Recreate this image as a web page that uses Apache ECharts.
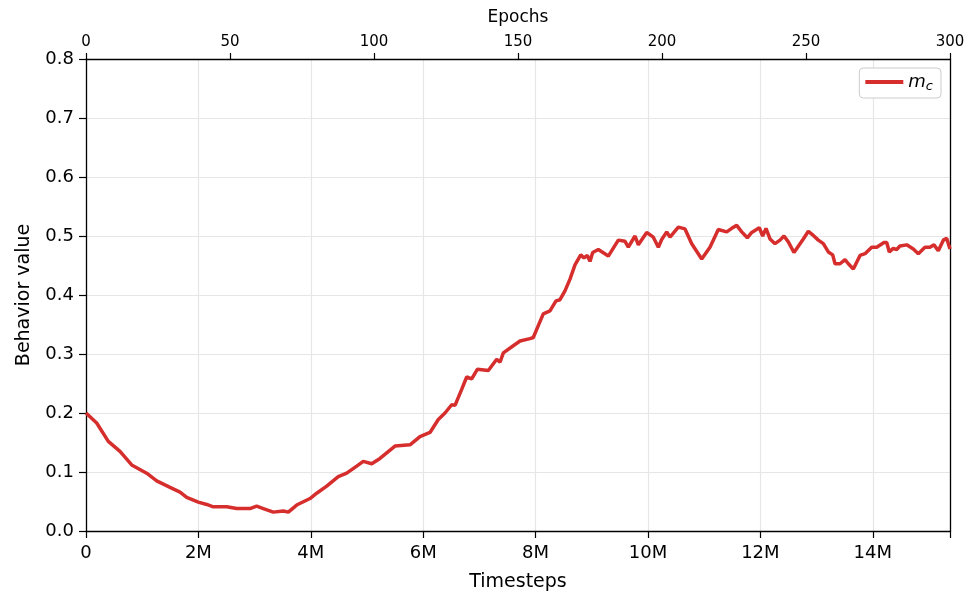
<!DOCTYPE html>
<html>
<head>
<meta charset="utf-8">
<script src="https://cdn.jsdelivr.net/npm/echarts@6/dist/echarts.min.js"></script>
<style>
  html, body { margin: 0; padding: 0; background: #fff; }
  #chart { width: 969px; height: 594px; }
</style>
</head>
<body>
<div id="chart"></div>
<script>
// timesteps in millions
const steps = [0, 0.19, 0.397, 0.605, 0.813, 1.08, 1.258, 1.495, 1.673, 1.792, 1.998, 2.148, 2.265, 2.504, 2.682, 2.918, 3.037, 3.155, 3.333, 3.511, 3.6, 3.749, 3.986, 4.105, 4.283, 4.489, 4.639, 4.817, 4.934, 5.084, 5.231, 5.498, 5.765, 5.943, 6.121, 6.269, 6.388, 6.507, 6.566, 6.685, 6.774, 6.863, 6.963, 7.159, 7.308, 7.367, 7.426, 7.603, 7.723, 7.9, 7.959, 8.048, 8.137, 8.256, 8.363, 8.434, 8.523, 8.612, 8.701, 8.803, 8.861, 8.92, 8.968, 9.016, 9.116, 9.294, 9.472, 9.591, 9.65, 9.769, 9.828, 9.977, 10.095, 10.184, 10.244, 10.333, 10.392, 10.54, 10.659, 10.778, 10.956, 11.103, 11.251, 11.401, 11.49, 11.579, 11.668, 11.767, 11.846, 11.981, 12.041, 12.1, 12.171, 12.26, 12.349, 12.42, 12.497, 12.598, 12.764, 12.853, 12.942, 13.031, 13.12, 13.209, 13.287, 13.328, 13.417, 13.506, 13.565, 13.654, 13.773, 13.862, 13.981, 14.07, 14.2, 14.248, 14.294, 14.365, 14.425, 14.484, 14.604, 14.721, 14.81, 14.929, 15.018, 15.089, 15.166, 15.255, 15.315, 15.374];
const mcValues = [0.2, 0.183, 0.152, 0.135, 0.112, 0.098, 0.085, 0.074, 0.066, 0.057, 0.049, 0.045, 0.041, 0.041, 0.038, 0.038, 0.042, 0.038, 0.032, 0.034, 0.032, 0.044, 0.055, 0.064, 0.076, 0.092, 0.098, 0.11, 0.118, 0.114, 0.123, 0.144, 0.146, 0.16, 0.167, 0.189, 0.2, 0.214, 0.213, 0.24, 0.261, 0.258, 0.274, 0.272, 0.291, 0.286, 0.302, 0.314, 0.322, 0.326, 0.328, 0.348, 0.368, 0.373, 0.39, 0.392, 0.407, 0.427, 0.451, 0.468, 0.463, 0.467, 0.457, 0.472, 0.477, 0.466, 0.493, 0.491, 0.481, 0.5, 0.485, 0.506, 0.498, 0.481, 0.494, 0.507, 0.498, 0.515, 0.512, 0.487, 0.461, 0.481, 0.511, 0.507, 0.513, 0.518, 0.507, 0.497, 0.506, 0.514, 0.5, 0.513, 0.495, 0.487, 0.493, 0.5, 0.49, 0.472, 0.495, 0.508, 0.501, 0.493, 0.487, 0.473, 0.468, 0.453, 0.453, 0.46, 0.453, 0.444, 0.467, 0.47, 0.481, 0.481, 0.489, 0.489, 0.473, 0.479, 0.477, 0.483, 0.485, 0.478, 0.47, 0.481, 0.481, 0.485, 0.475, 0.493, 0.496, 0.478];
const stepMax = 15.374;
const epochTicks = [0, 50, 100, 150, 200, 250, 300];
const yTicks = [0, 0.1, 0.2, 0.3, 0.4, 0.5, 0.6, 0.7, 0.8];

const font = "DejaVu Sans";
const black = "#000";
let chart = echarts.init(document.getElementById("chart"));
let option = {
  backgroundColor: "#fff",
  animation: false,
  grid: { left: 86, right: 19, top: 59, bottom: 63, containLabel: false, outerBoundsMode: "none" },
  legend: {
    right: 28,
    top: 68,
    padding: [5, 8, 5, 6],
    backgroundColor: "#fff",
    borderColor: "#cccccc",
    borderWidth: 1,
    borderRadius: 4,
    icon: "rect",
    itemWidth: 38,
    itemHeight: 4,
    itemGap: 10,
    formatter: () => "{i|m}{s|c}",
    textStyle: {
      rich: {
        i: { fontFamily: font, fontStyle: "italic", fontSize: 18, color: black },
        s: { fontFamily: font, fontStyle: "italic", fontSize: 13, color: black, padding: [9, 0, 0, 0] },
      },
    },
    data: ["mc"],
  },
  xAxis: [
    {
      type: "value",
      min: 0,
      max: stepMax,
      interval: 2,
      name: "Timesteps",
      nameLocation: "middle",
      nameGap: 42,
      nameTextStyle: { fontFamily: font, fontSize: 19, color: black },
      axisLine: { onZero: false, lineStyle: { color: black, width: 1.3 } },
      axisTick: { show: true, length: 7, lineStyle: { color: black, width: 1.2 } },
      axisLabel: {
        fontFamily: font, fontSize: 18, color: black, margin: 13,
        formatter: (v) => (Math.abs(v % 2) < 1e-9 ? (v === 0 ? "0" : v + "M") : ""),
      },
      splitLine: { show: true, lineStyle: { color: "#e6e6e6", width: 1.2 } },
    },
    {
      type: "value",
      position: "top",
      min: epochTicks[0],
      max: epochTicks[epochTicks.length - 1],
      interval: 50,
      name: "Epochs",
      nameLocation: "middle",
      nameGap: 33,
      nameTextStyle: { fontFamily: font, fontSize: 17, color: black },
      axisLine: { show: true, onZero: false, lineStyle: { color: black, width: 1.3 } },
      axisTick: { show: true, length: 6, lineStyle: { color: black, width: 1.2 } },
      axisLabel: { fontFamily: font, fontSize: 15, color: black, margin: 9 },
      splitLine: { show: false },
    },
  ],
  yAxis: [
    {
      type: "value",
      min: yTicks[0],
      max: yTicks[yTicks.length - 1],
      interval: 0.1,
      name: "Behavior value",
      nameLocation: "middle",
      nameGap: 52,
      nameTextStyle: { fontFamily: font, fontSize: 19, color: black },
      axisLine: { show: true, onZero: false, lineStyle: { color: black, width: 1.3 } },
      axisTick: { show: true, length: 7, lineStyle: { color: black, width: 1.2 } },
      axisLabel: { fontFamily: font, fontSize: 18, color: black, margin: 12, formatter: (v) => v.toFixed(1) },
      splitLine: { show: true, lineStyle: { color: "#e6e6e6", width: 1.2 } },
    },
    {
      type: "value",
      position: "right",
      min: 0,
      max: 0.8,
      axisLine: { show: true, onZero: false, lineStyle: { color: black, width: 1.3 } },
      axisTick: { show: false },
      axisLabel: { show: false },
      splitLine: { show: false },
    },
  ],
  series: [
    {
      name: "mc",
      type: "line",
      xAxisIndex: 0,
      yAxisIndex: 0,
      showSymbol: false,
      symbol: "none",
      lineStyle: { color: "#d62d2d", width: 3.5 },
      itemStyle: { color: "#d62d2d" },
      data: steps.map((s, i) => [s, mcValues[i]]),
    },
  ],
};
chart.setOption(option);
</script>
</body>
</html>
